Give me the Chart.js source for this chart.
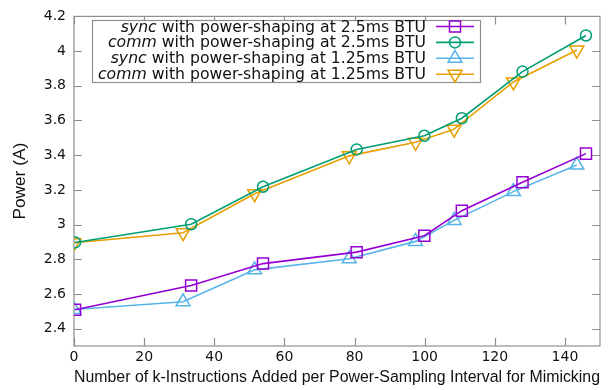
<!DOCTYPE html>
<html>
<head>
<meta charset="utf-8">
<script src="https://cdn.jsdelivr.net/npm/chart.js@4.4.1/dist/chart.umd.min.js"></script>
<style>
  html, body { margin: 0; padding: 0; background: #fff; }
  #wrap { width: 613px; height: 390px; position: relative; }
</style>
</head>
<body>
<div id="wrap"><canvas id="chart"></canvas></div>
<script>
// k-instructions added (x) for each BTU setting
const xs25 = [0.3, 33.4, 53.9, 80.6, 99.9, 110.6, 127.9, 146.0];
const xs125 = [0, 31.1, 51.5, 78.5, 97.4, 108.4, 125.3, 143.4];

// power (A)
const sync25 = [2.509, 2.649, 2.775, 2.841, 2.936, 3.080, 3.244, 3.409];
const comm25 = [2.897, 3.002, 3.218, 3.433, 3.512, 3.613, 3.882, 4.090];
const sync125 = [2.510, 2.555, 2.739, 2.803, 2.903, 3.024, 3.190, 3.343];
const comm125 = [2.895, 2.953, 3.178, 3.396, 3.474, 3.550, 3.822, 4.006];

const xTicks = [0, 20, 40, 60, 80, 100, 120, 140];
const yTicks = [2.4, 2.6, 2.8, 3, 3.2, 3.4, 3.6, 3.8, 4, 4.2];

const seriesInfo = [
  { word: 'sync', rest: ' with power-shaping at 2.5ms BTU', color: '#9400d3', style: 'rect', radius: 7.8, rot: 0 },
  { word: 'comm', rest: ' with power-shaping at 2.5ms BTU', color: '#009e73', style: 'circle', radius: 5.5, rot: 0 },
  { word: 'sync', rest: ' with power-shaping at 1.25ms BTU', color: '#56b4e9', style: 'triangle', radius: 8, rot: 0 },
  { word: 'comm', rest: ' with power-shaping at 1.25ms BTU', color: '#e69f00', style: 'triangle', radius: 8, rot: 180 }
];
const seriesX = [xs25, xs25, xs125, xs125];
const seriesY = [sync25, comm25, sync125, comm125];

const FRAME = '#8f8f8f';
const TICK_FONT = "'DejaVu Sans', sans-serif";
const TITLE_FONT = "'Liberation Sans', Arial, sans-serif";

function toPoints(xs, ys) {
  return xs.map((x, i) => ({ x: x, y: ys[i] }));
}

const datasets = seriesInfo.map((s, i) => ({
  label: s.word + s.rest,
  data: toPoints(seriesX[i], seriesY[i]),
  borderColor: s.color,
  borderWidth: 1.6,
  pointStyle: s.style,
  pointRadius: s.radius,
  pointRotation: s.rot,
  pointBorderColor: s.color,
  pointBackgroundColor: 'rgba(0,0,0,0)',
  pointBorderWidth: 1.5,
  tension: 0,
  fill: false
}));

// marker for the legend sample
function drawMarker(ctx, style, x, y, r, rot) {
  ctx.beginPath();
  if (style === 'rect') {
    const s = Math.SQRT1_2 * r;
    ctx.rect(x - s, y - s, 2 * s, 2 * s);
  } else if (style === 'circle') {
    ctx.arc(x, y, r, 0, Math.PI * 2);
  } else {
    let a = rot * Math.PI / 180;
    ctx.moveTo(x + Math.sin(a) * r, y - Math.cos(a) * r);
    a += 2 * Math.PI / 3;
    ctx.lineTo(x + Math.sin(a) * r, y - Math.cos(a) * r);
    a += 2 * Math.PI / 3;
    ctx.lineTo(x + Math.sin(a) * r, y - Math.cos(a) * r);
    ctx.closePath();
  }
  ctx.stroke();
}

// frame with inward tick marks, like gnuplot
const framePlugin = {
  id: 'frame',
  beforeDatasetsDraw(chart) {
    const { ctx, chartArea: a, scales } = chart;
    ctx.save();
    ctx.strokeStyle = FRAME;
    ctx.lineWidth = 1.2;
    ctx.strokeRect(a.left, a.top, a.right - a.left, a.bottom - a.top);
    ctx.beginPath();
    xTicks.forEach(v => {
      const px = Math.round(scales.x.getPixelForValue(v)) + 0.5;
      ctx.moveTo(px, a.bottom); ctx.lineTo(px, a.bottom - 8);
      ctx.moveTo(px, a.top); ctx.lineTo(px, a.top + 8);
    });
    yTicks.forEach(v => {
      const py = Math.round(scales.y.getPixelForValue(v)) + 0.5;
      ctx.moveTo(a.left, py); ctx.lineTo(a.left + 8, py);
      ctx.moveTo(a.right, py); ctx.lineTo(a.right - 8, py);
    });
    ctx.stroke();
    ctx.restore();
  }
};

// legend with italic first word
const legendPlugin = {
  id: 'keyBox',
  afterDraw(chart) {
    const ctx = chart.ctx;
    ctx.save();
    ctx.fillStyle = '#fff';
    ctx.fillRect(92, 20, 389, 63);
    ctx.strokeStyle = FRAME;
    ctx.lineWidth = 1.2;
    ctx.strokeRect(92.5, 20.5, 388, 62);
    ctx.textBaseline = 'middle';
    ctx.textAlign = 'right';
    seriesInfo.forEach((s, i) => {
      const y = 27.5 + i * 15.9;
      const textRight = 426;
      ctx.fillStyle = '#111';
      ctx.font = '15.7px ' + TICK_FONT;
      ctx.fillText(s.rest, textRight, y);
      const w = ctx.measureText(s.rest).width;
      ctx.font = 'italic 15.7px ' + TICK_FONT;
      ctx.fillText(s.word, textRight - w, y);
      ctx.strokeStyle = s.color;
      ctx.lineWidth = 1.6;
      ctx.beginPath();
      ctx.moveTo(436, y - 1); ctx.lineTo(474, y - 1);
      ctx.stroke();
      ctx.lineWidth = 1.5;
      drawMarker(ctx, s.style, 455, y - 1, s.radius, s.rot);
    });
    ctx.restore();
  }
};

new Chart(document.getElementById('chart'), {
  type: 'line',
  data: { datasets: datasets },
  options: {
    responsive: true,
    maintainAspectRatio: false,
    animation: false,
    layout: { padding: { top: 7, right: 13, left: 0, bottom: 0 } },
    plugins: { legend: { display: false }, tooltip: { enabled: false } },
    scales: {
      x: {
        type: 'linear',
        min: 0,
        max: 150,
        afterFit: s => { s.height = 44; },
        afterBuildTicks: s => { s.ticks = xTicks.map(v => ({ value: v })); },
        grid: { display: false, drawTicks: false },
        border: { display: false },
        ticks: { color: '#111', padding: 3, maxRotation: 0, font: { family: TICK_FONT, size: 14 },
          callback: v => String(v) },
        title: {
          display: true,
          text: 'Number of k-Instructions Added per Power-Sampling Interval for Mimicking',
          color: '#111',
          font: { family: TITLE_FONT, size: 16.7 },
          padding: { top: 0, bottom: 3 }
        }
      },
      y: {
        type: 'linear',
        min: 2.3,
        max: 4.2,
        afterFit: s => { s.width = 74; },
        afterBuildTicks: s => { s.ticks = yTicks.map(v => ({ value: v })); },
        grid: { display: false, drawTicks: false },
        border: { display: false },
        ticks: { color: '#111', padding: 8, font: { family: TICK_FONT, size: 14 },
          callback: v => String(Math.round(v * 10) / 10) },
        title: {
          display: true,
          text: 'Power (A)',
          color: '#111',
          font: { family: TITLE_FONT, size: 17.3 },
          padding: { top: 10, bottom: 0 }
        }
      }
    }
  },
  plugins: [framePlugin, legendPlugin]
});
</script>
</body>
</html>
